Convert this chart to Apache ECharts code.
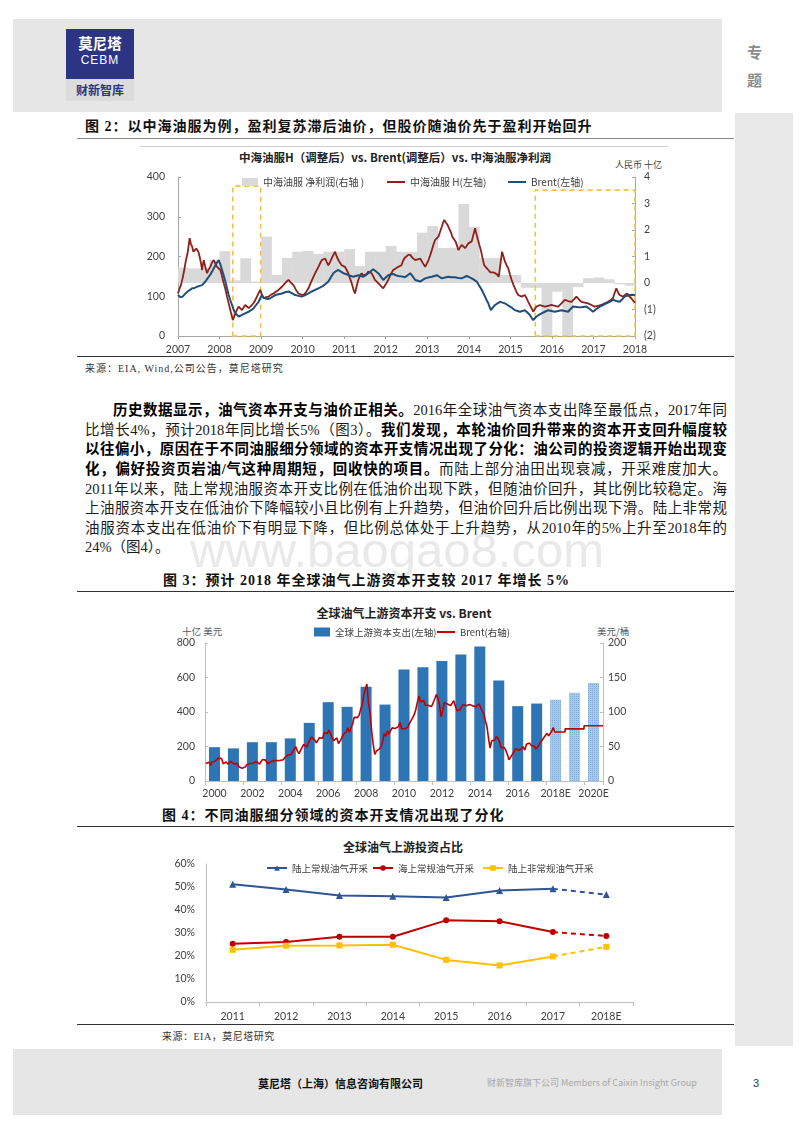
<!DOCTYPE html>
<html><head><meta charset="utf-8">
<script src="https://cdn.jsdelivr.net/npm/echarts@6.0.0/dist/echarts.min.js"></script>
<style>
html,body{margin:0;padding:0;background:#fff;}
#page{position:relative;width:800px;height:1131px;overflow:hidden;background:#fff;font-family:"Noto Sans CJK SC",sans-serif;}
.band{position:absolute;background:#e6e6e6;}
.hl{position:absolute;height:0;border-top:1px solid #333;}
.t{position:absolute;white-space:nowrap;}
.fig{font-family:"Liberation Serif","Noto Sans CJK SC",serif;font-weight:700;font-size:14px;letter-spacing:1px;color:#111;line-height:18px;}
.ctitle{font-family:"Noto Sans CJK SC",sans-serif;font-weight:700;color:#222;transform:translateX(-50%);line-height:16px;}
.src{font-family:"Liberation Serif","Noto Sans CJK SC",serif;font-size:10px;letter-spacing:1px;color:#333;line-height:14px;}
.unit{font-family:"Noto Sans CJK SC",sans-serif;font-size:9.5px;color:#595959;line-height:12px;}
.p{position:absolute;left:85px;width:642px;height:19.6px;line-height:19.6px;font-family:"Liberation Serif","Noto Sans CJK SC",serif;font-size:14.5px;color:#1a1a1a;text-align:justify;text-align-last:justify;}
.p b{color:#000;}
#chart{position:absolute;left:0;top:0;width:800px;height:1131px;z-index:5;}
</style></head>
<body>
<div id="page">
  <!-- header -->
  <div class="band" style="left:13px;top:19px;width:709px;height:93px;"></div>
  <div style="position:absolute;left:66px;top:29px;width:68px;height:50px;background:#2b3583;"></div>
  <div class="t" style="left:66px;width:68px;top:34px;text-align:center;color:#fff;font-weight:700;font-size:14.5px;line-height:17px;">莫尼塔</div>
  <div class="t" style="left:66px;width:68px;top:53px;text-align:center;color:#fff;font-family:'Liberation Sans';font-size:12px;line-height:14px;letter-spacing:1px;">CEBM</div>
  <div style="position:absolute;left:66px;top:79px;width:68px;height:22px;background:#dcdcdc;"></div>
  <div class="t" style="left:66px;width:68px;top:82px;text-align:center;color:#2b3583;font-weight:700;font-size:12px;line-height:16px;">财新智库</div>
  <div class="t" style="left:747px;top:43px;color:#8c8c8c;font-size:15px;font-weight:700;line-height:18px;">专</div>
  <div class="t" style="left:747px;top:71px;color:#8c8c8c;font-size:15px;font-weight:700;line-height:18px;">题</div>
  <div class="band" style="left:735px;top:113px;width:58px;height:933px;background:#e8e8e8;"></div>

  <!-- figure 2 -->
  <div class="t fig" style="left:85px;top:118px;">图 2：以中海油服为例，盈利复苏滞后油价，但股价随油价先于盈利开始回升</div>
  <div class="hl" style="left:77px;top:138px;width:657px;border-color:#888;"></div>
  <div class="hl" style="left:140px;top:146px;width:528px;border-color:#cfcfcf;"></div>
  <div class="t ctitle" style="left:395px;top:149px;font-size:11.5px;">中海油服H（调整后）vs. Brent(调整后）vs. 中海油服净利润</div>
  <div class="t unit" style="left:615px;top:159px;font-size:9px;color:#404040;">人民币 十亿</div>
  <div class="hl" style="left:77px;top:356px;width:657px;"></div>
  <div class="t src" style="left:85px;top:362px;">来源：EIA, Wind,公司公告，莫尼塔研究</div>

  <!-- paragraph -->
  <div class="t" style="left:190px;top:520px;font-family:'Liberation Sans';font-size:49px;line-height:60px;color:#e9e9e9;z-index:0;">www.baogao8.com</div>
  <div class="p" style="top:401.2px;left:113px;width:614px;"><b>历史数据显示，油气资本开支与油价正相关。</b>2016年全球油气资本支出降至最低点，2017年同</div>
  <div class="p" style="top:420.8px;">比增长4%，预计2018年同比增长5%（图3）。<b>我们发现，本轮油价回升带来的资本开支回升幅度较</b></div>
  <div class="p" style="top:440.4px;"><b>以往偏小，原因在于不同油服细分领域的资本开支情况出现了分化：油公司的投资逻辑开始出现变</b></div>
  <div class="p" style="top:460.0px;"><b>化，偏好投资页岩油/气这种周期短，回收快的项目。</b>而陆上部分油田出现衰减，开采难度加大。</div>
  <div class="p" style="top:479.6px;">2011年以来，陆上常规油服资本开支比例在低油价出现下跌，但随油价回升，其比例比较稳定。海</div>
  <div class="p" style="top:499.2px;">上油服资本开支在低油价下降幅较小且比例有上升趋势，但油价回升后比例出现下滑。陆上非常规</div>
  <div class="p" style="top:518.8px;">油服资本支出在低油价下有明显下降，但比例总体处于上升趋势，从2010年的5%上升至2018年的</div>
  <div class="p" style="top:538.4px;text-align:left;text-align-last:left;">24%（图4）。</div>

  <!-- figure 3 -->
  <div class="t fig" style="left:163px;top:572px;">图 3：预计 2018 年全球油气上游资本开支较 2017 年增长 5%</div>
  <div class="hl" style="left:77px;top:591px;width:657px;"></div>
  <div class="t ctitle" style="left:404px;top:605px;font-size:12px;">全球油气上游资本开支 vs. Brent</div>
  <div class="t unit" style="left:182px;top:625px;">十亿 美元</div>
  <div class="t unit" style="left:597px;top:625px;">美元/桶</div>

  <!-- figure 4 -->
  <div class="t fig" style="left:162px;top:807px;">图 4：不同油服细分领域的资本开支情况出现了分化</div>
  <div class="hl" style="left:77px;top:826px;width:657px;"></div>
  <div class="t ctitle" style="left:403px;top:839px;font-size:12px;">全球油气上游投资占比</div>
  <div class="hl" style="left:77px;top:1024px;width:657px;"></div>
  <div class="t src" style="left:162px;top:1030px;letter-spacing:0.5px;">来源：EIA，莫尼塔研究</div>

  <!-- footer -->
  <div class="band" style="left:13px;top:1049px;width:709px;height:66px;"></div>
  <div class="t" style="left:258px;top:1075px;font-size:11px;font-weight:700;color:#111;line-height:16px;">莫尼塔（上海）信息咨询有限公司</div>
  <div class="t" style="left:487px;top:1076px;font-size:9px;color:#a6a6a6;line-height:14px;">财新智库旗下公司 Members of Caixin Insight Group</div>
  <div class="t" style="left:753px;top:1075px;font-size:11px;color:#333;line-height:16px;font-family:'Liberation Sans';">3</div>

  <div id="chart"></div>
</div>
<script>
// ---------------- Chart 1 data ----------------
const c1ProfitStartYear = 2007;           // quarterly net profit, RMB bn
const c1Profit = [0.58,0.55,0.55,0.87, 1.2,0.1,0.93,0.05, 1.75,0.3,0.95,1.18, 1.21,1.1,1.18,1.18,
  1.28,0.64,1.18,1.18, 1.4,1.18,1.18,1.9, 2.15,1.32,1.33,2.98, 2.12,0.94,0.95,0.3,
  0.3,-0.18,-0.18,-2.0, -0.33,-2.0,-0.15,0.18, 0.21,0.14,-0.05,-0.1];
const c1HShare = [[2007.00,107],[2007.04,120],[2007.07,128],[2007.11,145],[2007.15,166],[2007.19,190],[2007.23,208],[2007.26,230],[2007.28,246],[2007.31,232],[2007.34,225],[2007.37,212],[2007.41,209],[2007.44,220],[2007.46,225],[2007.49,212],[2007.52,200],[2007.55,185],[2007.58,166],[2007.60,180],[2007.62,191],[2007.66,172],[2007.70,158],[2007.74,168],[2007.78,174],[2007.82,185],[2007.86,191],[2007.90,182],[2007.94,174],[2007.98,170],
 [2008.02,166],[2008.06,150],[2008.10,133],[2008.14,118],[2008.18,99],[2008.22,82],[2008.26,65],[2008.29,52],[2008.32,40],[2008.35,48],[2008.38,57],[2008.42,66],[2008.46,74],[2008.50,70],[2008.54,65],[2008.58,72],[2008.62,78],[2008.66,74],[2008.70,70],[2008.76,76],[2008.82,83],[2008.86,90],[2008.90,99],[2008.94,108],[2008.98,116],
 [2009.02,104],[2009.06,95],[2009.12,98],[2009.18,99],[2009.24,104],[2009.30,107],[2009.36,112],[2009.42,116],[2009.48,122],[2009.54,128],[2009.60,136],[2009.66,141],[2009.72,134],[2009.78,128],[2009.84,116],[2009.90,107],[2009.96,104],
 [2010.02,103],[2010.08,110],[2010.14,120],[2010.20,135],[2010.26,149],[2010.32,162],[2010.38,174],[2010.42,183],[2010.46,191],[2010.50,193],[2010.54,195],[2010.58,186],[2010.62,178],[2010.66,186],[2010.70,195],[2010.74,204],[2010.78,212],[2010.82,200],[2010.86,191],[2010.90,184],[2010.94,178],[2010.98,176],
 [2011.02,174],[2011.06,166],[2011.10,158],[2011.14,145],[2011.18,133],[2011.22,118],[2011.26,107],[2011.30,125],[2011.34,141],[2011.38,152],[2011.42,158],[2011.46,152],[2011.50,149],[2011.54,156],[2011.58,162],[2011.62,160],[2011.66,158],[2011.70,150],[2011.74,141],[2011.78,136],[2011.82,133],[2011.88,126],[2011.94,120],
 [2012.00,130],[2012.06,141],[2012.12,155],[2012.18,166],[2012.24,170],[2012.30,174],[2012.34,176],[2012.38,178],[2012.42,190],[2012.46,197],[2012.50,200],[2012.54,204],[2012.59,204],[2012.65,196],[2012.71,191],[2012.77,193],[2012.83,195],[2012.89,184],[2012.95,174],[2012.99,182],
 [2013.03,191],[2013.07,203],[2013.11,216],[2013.15,230],[2013.19,242],[2013.23,246],[2013.27,250],[2013.31,263],[2013.35,275],[2013.38,285],[2013.41,292],[2013.45,285],[2013.49,279],[2013.52,272],[2013.55,267],[2013.58,258],[2013.60,250],[2013.64,244],[2013.68,238],[2013.72,226],[2013.75,216],[2013.79,223],[2013.83,229],[2013.87,225],[2013.91,221],[2013.95,227],[2013.99,233],
 [2014.03,235],[2014.07,238],[2014.11,255],[2014.15,271],[2014.18,258],[2014.21,246],[2014.25,230],[2014.29,216],[2014.33,196],[2014.37,178],[2014.42,172],[2014.47,166],[2014.52,160],[2014.56,158],[2014.60,160],[2014.64,162],[2014.68,155],[2014.72,149],[2014.76,180],[2014.80,212],[2014.84,198],[2014.87,187],[2014.91,178],[2014.95,170],[2014.99,155],
 [2015.03,141],[2015.07,130],[2015.11,120],[2015.15,110],[2015.19,103],[2015.23,100],[2015.27,99],[2015.31,101],[2015.35,103],[2015.39,95],[2015.43,86],[2015.46,80],[2015.49,74],[2015.52,68],[2015.55,61],[2015.59,68],[2015.63,74],[2015.67,76],[2015.71,78],[2015.77,76],[2015.83,74],[2015.91,76],[2015.99,78],
 [2016.07,76],[2016.15,74],[2016.23,82],[2016.31,91],[2016.39,88],[2016.47,86],[2016.53,92],[2016.59,99],[2016.65,92],[2016.71,86],[2016.79,84],[2016.87,82],[2016.95,78],
 [2017.03,74],[2017.11,76],[2017.19,78],[2017.27,82],[2017.35,86],[2017.41,90],[2017.47,95],[2017.51,108],[2017.55,120],[2017.59,110],[2017.63,103],[2017.67,100],[2017.71,99],[2017.76,103],[2017.81,107],[2017.86,100],[2017.91,95],[2017.96,88],[2018.00,84]];
const c1BrentAdj = [[2007.00,103],[2007.05,98],[2007.11,99],[2007.17,106],[2007.23,112],[2007.29,116],[2007.34,120],[2007.40,121],[2007.46,124],[2007.52,126],[2007.58,128],[2007.62,132],[2007.66,137],[2007.70,143],[2007.74,149],[2007.78,155],[2007.82,162],[2007.86,170],[2007.90,178],[2007.94,185],[2007.98,191],
 [2008.02,180],[2008.06,166],[2008.10,152],[2008.14,137],[2008.18,120],[2008.22,103],[2008.26,90],[2008.30,78],[2008.34,66],[2008.38,57],[2008.42,52],[2008.46,49],[2008.52,52],[2008.58,55],[2008.64,58],[2008.70,61],[2008.76,65],[2008.82,70],[2008.88,78],[2008.94,86],[2008.98,95],
 [2009.02,103],[2009.06,96],[2009.10,91],[2009.16,93],[2009.22,95],[2009.28,99],[2009.34,103],[2009.42,105],[2009.50,107],[2009.58,110],[2009.66,112],[2009.74,108],[2009.82,103],[2009.90,101],[2009.98,99],
 [2010.06,103],[2010.14,107],[2010.22,112],[2010.30,116],[2010.38,120],[2010.46,124],[2010.54,130],[2010.62,137],[2010.68,148],[2010.74,158],[2010.80,163],[2010.86,166],[2010.92,162],[2010.98,158],
 [2011.04,156],[2011.10,153],[2011.16,151],[2011.22,149],[2011.28,151],[2011.34,153],[2011.40,151],[2011.46,149],[2011.52,153],[2011.58,158],[2011.64,163],[2011.70,168],[2011.76,163],[2011.82,158],[2011.88,150],[2011.94,141],
 [2012.00,147],[2012.06,153],[2012.12,155],[2012.18,156],[2012.24,153],[2012.30,151],[2012.38,150],[2012.46,148],[2012.52,152],[2012.59,158],[2012.65,150],[2012.71,141],[2012.77,139],[2012.83,137],[2012.89,141],[2012.95,145],
 [2013.03,147],[2013.11,149],[2013.17,151],[2013.23,153],[2013.29,149],[2013.35,145],[2013.43,147],[2013.51,149],[2013.59,148],[2013.67,148],[2013.75,146],[2013.83,145],[2013.89,148],[2013.95,151],
 [2014.01,148],[2014.07,145],[2014.13,141],[2014.19,137],[2014.24,128],[2014.29,120],[2014.34,110],[2014.39,99],[2014.43,90],[2014.47,82],[2014.50,73],[2014.53,65],[2014.58,72],[2014.63,78],[2014.69,82],[2014.75,86],[2014.81,84],[2014.87,82],[2014.93,78],[2014.99,74],
 [2015.05,70],[2015.11,65],[2015.17,63],[2015.23,61],[2015.29,63],[2015.35,65],[2015.41,59],[2015.47,53],[2015.51,46],[2015.55,40],[2015.59,45],[2015.63,49],[2015.69,53],[2015.75,57],[2015.83,61],[2015.91,65],[2015.99,63],
 [2016.07,61],[2016.15,63],[2016.23,65],[2016.31,63],[2016.39,61],[2016.45,68],[2016.51,74],[2016.59,73],[2016.67,72],[2016.75,73],[2016.83,74],[2016.91,68],[2016.99,61],
 [2017.07,68],[2017.15,74],[2017.23,78],[2017.31,82],[2017.39,86],[2017.47,91],[2017.55,88],[2017.63,86],[2017.69,92],[2017.75,99],[2017.81,101],[2017.87,103],[2017.93,104],[2018.00,103]];
const c1Boxes = [[2008.32, 2008.99, 377], [2015.6, 2018.0, 367]];   // highlighted periods (x from, x to, left-axis top)
const c1Names = ['中海油服 净利润(右轴 )', '中海油服 H(左轴)', 'Brent(左轴)'];

// ---------------- Chart 3 data ----------------
const c3Cats = ['2000','2001','2002','2003','2004','2005','2006','2007','2008','2009','2010','2011','2012','2013','2014','2015','2016','2017','2018E','2019E','2020E'];
const c3Capex = [196,189,225,225,247,337,457,430,546,443,646,659,696,733,780,583,434,449,471,511,568];
const c3ForecastFrom = '2018E';
const c3BrentStartYear = 2000;   // monthly Brent, USD/bbl, Jan 2000 onwards
const c3BrentMonthly = [
 25.5,27.5,27.2,22.7,27.6,29.8,28.7,30.4,33.1,30.9,32.5,25.0,
 25.6,27.5,24.5,25.7,28.4,27.7,24.5,25.6,25.6,20.5,18.7,18.6,
 19.4,20.3,23.7,25.7,25.4,24.1,25.7,26.6,28.4,27.5,24.3,28.3,
 31.2,32.8,30.3,25.0,25.8,27.6,28.4,29.8,27.1,29.6,28.8,29.8,
 31.3,30.9,33.8,33.4,37.6,35.2,38.2,42.7,43.2,49.8,43.1,39.6,
 44.5,45.5,53.1,51.9,49.0,55.6,57.5,63.8,63.7,59.4,55.3,56.8,
 62.8,60.2,62.1,70.3,70.0,68.9,73.7,73.2,62.5,58.4,58.8,62.4,
 54.3,57.8,62.1,67.4,67.5,71.3,77.2,70.8,77.1,82.9,92.5,91.5,
 91.9,94.8,103.3,110.4,123.9,133.1,140.5,113.0,99.1,72.8,53.0,38.5,
 43.4,43.3,46.5,50.2,57.3,68.6,64.9,72.5,67.7,73.2,77.0,74.7,
 76.2,73.8,78.8,84.8,75.9,74.8,75.6,77.1,78.2,83.5,86.1,91.8,
 96.5,103.7,114.6,123.3,114.5,113.9,116.7,110.2,112.8,109.6,110.8,107.9,
 110.7,119.3,125.5,119.8,110.3,93.0,102.6,113.4,113.0,111.5,109.5,109.5,
 112.9,116.5,108.5,102.3,102.6,102.9,107.7,111.0,111.6,109.1,107.8,110.8,
 108.1,108.9,107.5,107.8,109.5,111.8,106.8,101.6,97.1,87.4,79.4,62.3,
 47.8,58.1,55.9,59.5,64.6,61.7,56.8,48.2,48.5,48.3,44.3,38.0,
 30.7,32.2,38.2,41.6,46.7,48.8,44.7,45.8,46.6,49.5,44.7,53.3,
 54.6,54.9,51.6,52.3,50.3,46.4,48.5,51.7,56.2,57.5,62.7,64.4,
 69.1,65.3,66.0,72.1,77.5];
const c3BrentForecastX = [2018.45, 2019, 2019, 2020, 2020, 2021];
const c3BrentForecast  = [71, 71, 75.5, 75.5, 80, 80];

// ---------------- Chart 4 data ----------------
const c4Cats = ['2011','2012','2013','2014','2015','2016','2017','2018E'];
const c4Onshore  = [51.2,48.9,46.3,46.0,45.4,48.5,49.2,46.7];
const c4Offshore = [25.3,26.1,28.4,28.4,35.5,35.1,30.4,28.7];
const c4Unconv   = [22.7,24.5,24.6,24.9,18.3,15.9,19.8,24.0];
const c4Names = ['陆上常规油气开采','海上常规油气开采','陆上非常规油气开采'];
const c4EstimateIndex = 7;

// ---------------- build ----------------
const axisFont = {fontFamily:'Lato', fontSize:10.5, color:'#404040'};
const legendText = {fontFamily:'Noto Sans CJK SC', fontSize:10, color:'#404040', lineHeight:12};
const axLine = c => ({show:true, onZero:false, lineStyle:{color:c, width:1}});

const c1ProfitData = c1Profit.map((v,i)=>[c1ProfitStartYear + i*0.25, c1ProfitStartYear + (i+1)*0.25, v]);
const c3BrentData = c3BrentMonthly.map((v,i)=>[c3BrentStartYear + (i+0.5)/12, v])
  .concat(c3BrentForecastX.map((x,i)=>[x, c3BrentForecast[i]]));
const fIdx = c3Cats.indexOf(c3ForecastFrom);
const c3BarData = c3Capex.map((v,i)=> i>=fIdx ? {value:v, itemStyle:{color:'#a9c9ea', decal:{symbol:'rect', symbolSize:1, dashArrayX:[1,1], dashArrayY:[1,1], color:'rgba(46,117,182,0.35)'}}} : v);

function c4Pair(name, vals, color, symbol, size){
  const solid = vals.map((v,i)=> i<c4EstimateIndex ? v : '-');
  const dashed = vals.map((v,i)=> i<c4EstimateIndex-1 ? '-' : (i===c4EstimateIndex-1 ? {value:v, symbol:'none'} : v));
  const common = {type:'line', xAxisIndex:3, yAxisIndex:4, symbol:symbol, symbolSize:size, showAllSymbol:true,
    itemStyle:{color:color}, z:5};
  return [
    Object.assign({}, common, {name:name, data:solid, lineStyle:{color:color, width:2}}),
    Object.assign({}, common, {name:name+'_est', data:dashed, lineStyle:{color:color, width:2, type:[5,4]}})
  ];
}

const chart = echarts.init(document.getElementById('chart'), null, {renderer:'canvas'});
const option = {
  animation:false,
  backgroundColor:'transparent',
  textStyle:{fontFamily:'Noto Sans CJK SC'},
  grid:[
    {left:178, top:177, width:457, height:159, outerBoundsMode:'none'},
    {left:205, top:643, width:398, height:138, outerBoundsMode:'none'},
    {left:206, top:864, width:427, height:138, outerBoundsMode:'none'}
  ],
  xAxis:[
    {gridIndex:0, type:'value', min:2007, max:2018, interval:1, splitLine:{show:false},
     axisLine:axLine('#a6a6a6'), axisTick:{show:true, length:3, lineStyle:{color:'#a6a6a6'}},
     axisLabel:Object.assign({}, axisFont, {margin:8, formatter:v=>String(v)})},
    {gridIndex:1, type:'category', data:c3Cats, axisLine:axLine('#bfbfbf'),
     axisTick:{show:true, length:4, lineStyle:{color:'#bfbfbf'}},
     axisLabel:Object.assign({}, axisFont, {fontSize:10.5, interval:1, margin:7})},
    {gridIndex:1, type:'value', min:2000, max:2021, show:false},
    {gridIndex:2, type:'category', data:c4Cats, axisLine:axLine('#bfbfbf'),
     axisTick:{show:true, length:4, lineStyle:{color:'#bfbfbf'}},
     axisLabel:Object.assign({}, axisFont, {margin:9})}
  ],
  yAxis:[
    {gridIndex:0, type:'value', position:'left', min:0, max:400, interval:100, splitLine:{show:false},
     axisLine:axLine('#a6a6a6'), axisTick:{show:true, inside:true, length:3, lineStyle:{color:'#a6a6a6'}},
     axisLabel:Object.assign({}, axisFont, {margin:13})},
    {gridIndex:0, type:'value', position:'right', min:-2, max:4, interval:1, splitLine:{show:false},
     axisLine:axLine('#a6a6a6'), axisTick:{show:true, inside:true, length:3, lineStyle:{color:'#a6a6a6'}},
     axisLabel:Object.assign({}, axisFont, {margin:9, formatter:v=> v<0 ? '('+(-v)+')' : String(v)})},
    {gridIndex:1, type:'value', position:'left', min:0, max:800, interval:200, splitLine:{show:false},
     axisLine:axLine('#bfbfbf'), axisTick:{show:true, inside:true, length:3, lineStyle:{color:'#bfbfbf'}},
     axisLabel:Object.assign({}, axisFont, {margin:10})},
    {gridIndex:1, type:'value', position:'right', min:0, max:200, interval:50, splitLine:{show:false},
     axisLine:axLine('#bfbfbf'), axisTick:{show:true, inside:true, length:3, lineStyle:{color:'#bfbfbf'}},
     axisLabel:Object.assign({}, axisFont, {margin:5})},
    {gridIndex:2, type:'value', position:'left', min:0, max:60, interval:10, splitLine:{show:false},
     axisLine:axLine('#bfbfbf'), axisTick:{show:false},
     axisLabel:Object.assign({}, axisFont, {margin:11, formatter:'{value}%'})}
  ],
  legend:[
    {data:[c1Names[0]], left:242, top:176, padding:0, icon:'rect', itemWidth:16, itemHeight:8, selectedMode:false, textStyle:legendText},
    {data:[c1Names[1]], left:387, top:176, padding:0, icon:'rect', itemWidth:18, itemHeight:2, selectedMode:false, textStyle:legendText},
    {data:[c1Names[2]], left:508, top:176, padding:0, icon:'rect', itemWidth:18, itemHeight:2, selectedMode:false, textStyle:legendText},
    {data:['全球上游资本支出(左轴)'], left:314, top:626, padding:0, icon:'rect', itemWidth:16, itemHeight:9, selectedMode:false, textStyle:Object.assign({}, legendText, {fontSize:9.5})},
    {data:['Brent(右轴)'], left:437, top:626, padding:0, icon:'rect', itemWidth:18, itemHeight:2, selectedMode:false, textStyle:Object.assign({}, legendText, {fontSize:9.5})},
    {data:[c4Names[0]], left:266, top:862, padding:0, itemWidth:20, itemHeight:7, selectedMode:false, textStyle:Object.assign({}, legendText, {fontSize:9.5})},
    {data:[c4Names[1]], left:372, top:862, padding:0, itemWidth:20, itemHeight:7, selectedMode:false, textStyle:Object.assign({}, legendText, {fontSize:9.5})},
    {data:[c4Names[2]], left:482, top:862, padding:0, itemWidth:20, itemHeight:7, selectedMode:false, textStyle:Object.assign({}, legendText, {fontSize:9.5})}
  ],
  series:[
    {type:'custom', name:c1Names[0], xAxisIndex:0, yAxisIndex:1, z:1, itemStyle:{color:'#d9d9d9'},
     encode:{x:[0,1], y:2}, data:c1ProfitData,
     renderItem:function(params, api){
       const a = api.coord([api.value(0), 0]);
       const b = api.coord([api.value(1), api.value(2)]);
       return {type:'rect', shape:{x:a[0], y:Math.min(a[1],b[1]), width:b[0]-a[0]+0.4, height:Math.abs(b[1]-a[1])},
               style:{fill:'#d9d9d9'}};
     }},
    {type:'line', name:c1Names[1], xAxisIndex:0, yAxisIndex:0, z:3, data:c1HShare, symbol:'none',
     lineStyle:{color:'#8e2019', width:1.8}, itemStyle:{color:'#8e2019'},
     markArea:{silent:true, z:2, itemStyle:{color:'rgba(0,0,0,0)', borderColor:'#f4c244', borderWidth:1.6, borderType:[5,4]},
       data:c1Boxes.map(b=>[{coord:[b[0],0]},{coord:[b[1],b[2]]}])}},
    {type:'line', name:c1Names[2], xAxisIndex:0, yAxisIndex:0, z:4, data:c1BrentAdj, symbol:'none',
     lineStyle:{color:'#1f4e79', width:2}, itemStyle:{color:'#1f4e79'}},

    {type:'bar', name:'全球上游资本支出(左轴)', xAxisIndex:1, yAxisIndex:2, barWidth:11, z:2,
     itemStyle:{color:'#2e75b6'}, data:c3BarData},
    {type:'line', name:'Brent(右轴)', xAxisIndex:2, yAxisIndex:3, z:4, data:c3BrentData, symbol:'none',
     lineStyle:{color:'#c00000', width:1.6}, itemStyle:{color:'#c00000'}},

    ...c4Pair(c4Names[0], c4Onshore, '#2f5597', 'triangle', 7),
    ...c4Pair(c4Names[1], c4Offshore, '#c00000', 'circle', 6),
    ...c4Pair(c4Names[2], c4Unconv, '#ffc000', 'rect', 6)
  ]
};
chart.setOption(option);
</script>
</body></html>
